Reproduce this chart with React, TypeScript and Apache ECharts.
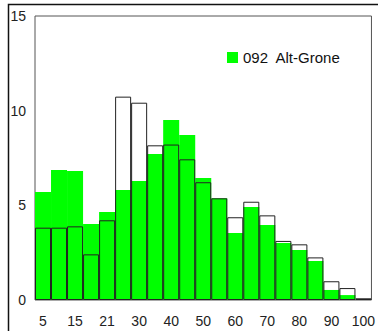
import React, { useEffect, useRef } from "react";
import * as echarts from "echarts";

const categories = ["5", "10", "15", "18", "21", "25", "30", "35", "40", "45", "50", "55", "60", "65", "70", "75", "80", "85", "90", "95", "100"];
const greenValues = [5.7, 6.87, 6.81, 4.01, 4.65, 5.81, 6.29, 7.71, 9.51, 8.72, 6.44, 5.37, 3.54, 4.91, 3.96, 3.01, 2.64, 2.06, 0.53, 0.26, 0];
const outlineValues = [3.82, 3.82, 3.89, 2.41, 4.21, 10.74, 10.42, 8.17, 8.21, 7.43, 6.22, 5.37, 4.37, 5.19, 4.47, 3.12, 2.94, 2.25, 0.99, 0.63, 0.09];
const yTicks = { min: 0, max: 15, interval: 5 };
const legendName = "092  Alt-Grone";

const FONT = "'Liberation Sans', Arial, sans-serif";

export default function App() {
  const ref = useRef<HTMLDivElement>(null);
  useEffect(() => {
    if (!ref.current) return;
    const chart = echarts.init(ref.current, null, { renderer: "svg" });
    chart.setOption({
      animation: false,
      backgroundColor: "#ffffff",
      textStyle: { fontFamily: FONT },
      grid: {
        left: 35,
        top: 16,
        right: 1,
        bottom: 31,
        show: true,
        borderColor: "#555",
        borderWidth: 1,
        backgroundColor: "transparent",
      },
      legend: {
        data: [legendName],
        left: 227,
        top: 50,
        padding: 0,
        icon: "rect",
        itemWidth: 11,
        itemHeight: 11,
        textStyle: { fontSize: 15, color: "#111", fontFamily: FONT },
      },
      xAxis: {
        type: "category",
        data: categories,
        axisTick: { show: false },
        axisLine: { show: false },
        axisLabel: {
          interval: 1,
          margin: 14,
          fontSize: 14,
          color: "#222",
          fontFamily: FONT,
          alignMinLabel: "center",
          alignMaxLabel: "center",
        },
        splitLine: { show: false },
      },
      yAxis: {
        type: "value",
        min: yTicks.min,
        max: yTicks.max,
        interval: yTicks.interval,
        axisTick: { show: false },
        axisLine: { show: false },
        splitLine: { show: false },
        axisLabel: { margin: 9, fontSize: 14, color: "#222", fontFamily: FONT },
      },
      series: [
        {
          name: legendName,
          type: "bar",
          data: greenValues,
          barCategoryGap: "0%",
          barGap: "-100%",
          itemStyle: { color: "#00ff00" },
        },
        {
          name: "outline",
          type: "bar",
          data: outlineValues,
          barCategoryGap: "0%",
          barGap: "-100%",
          itemStyle: { color: "rgba(0,0,0,0)", borderColor: "#222", borderWidth: 1 },
        },
      ],
      graphic: [
        {
          type: "rect",
          shape: { x: 8.5, y: 4.5, width: 420, height: 400 },
          style: { fill: "none", stroke: "#111", lineWidth: 1.5 },
          silent: true,
        },
      ],
    });
    return () => chart.dispose();
  }, []);
  return (
    <div
      ref={ref}
      style={{ position: "absolute", left: 0, top: 0, width: 378, height: 331 }}
    />
  );
}
